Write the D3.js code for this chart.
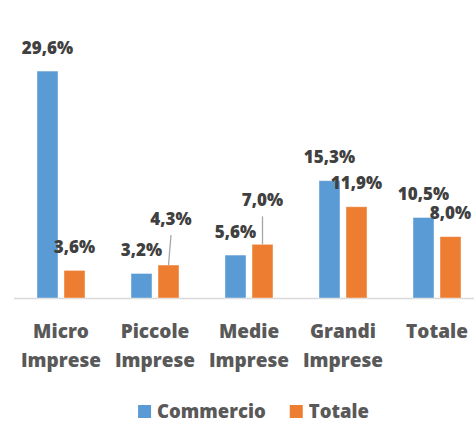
<!DOCTYPE html>
<meta charset="utf-8">
<style>
body { margin: 0; background: #fff; }
svg { display: block; font-family: "Open Sans", sans-serif; font-weight: 800; }
.axis-label { fill: #595959; font-size: 19px; }
.value { fill: #404040; font-size: 17px; }
.legend text { fill: #595959; font-size: 18.5px; }
</style>
<svg width="474" height="423"></svg>
<script src="https://cdn.jsdelivr.net/npm/d3@7/dist/d3.min.js"></script>
<script>

var categories = [["Micro", "Imprese"], ["Piccole", "Imprese"], ["Medie", "Imprese"], ["Grandi", "Imprese"], ["Totale"]];
var series = ["Commercio", "Totale"];
var commercio = [29.6, 3.2, 5.6, 15.3, 10.5];
var totale = [3.6, 4.3, 7.0, 11.9, 8.0];

var colors = {"Commercio": "#5b9bd5", "Totale": "#ed7d31"};

var svg = d3.select("svg"),
    width = +svg.attr("width"),
    height = +svg.attr("height");

var base = 298;

var rows = [];
categories.forEach(function(c, i) {
  rows.push({cat: i, s: "Commercio", v: commercio[i]});
  rows.push({cat: i, s: "Totale", v: totale[i]});
});

var x = d3.scaleBand()
    .domain(d3.range(categories.length))
    .range([14, 484]);

var xSub = d3.scaleBand()
    .domain(series)
    .range([23, 71])
    .paddingInner(0.222);

var y = d3.scaleLinear()
    .domain([0, 30])
    .range([base, 68]);

// axis line
svg.append("line")
    .attr("x1", 14).attr("x2", width)
    .attr("y1", base + 0.5).attr("y2", base + 0.5)
    .attr("stroke", "#d9d9d9")
    .attr("stroke-width", 1.5);

svg.append("g")
  .selectAll("rect")
  .data(rows)
  .enter().append("rect")
    .attr("x", function(d) { return x(d.cat) + xSub(d.s); })
    .attr("y", function(d) { return y(d.v); })
    .attr("width", xSub.bandwidth())
    .attr("height", function(d) { return base - y(d.v); })
    .attr("fill", function(d) { return colors[d.s]; })
    .attr("stroke", "#fff")
    .attr("stroke-opacity", 0.5)
    .attr("stroke-width", 0.8);

// labels that Excel pushed away from their bar
var nudge = {"1|Totale": [2.5, -40], "2|Totale": [0, -38]};

function lx(d) {
  var n = nudge[d.cat + "|" + d.s];
  return x(d.cat) + xSub(d.s) + xSub.bandwidth() / 2 + (n ? n[0] : 0);
}
function ly(d) {
  var n = nudge[d.cat + "|" + d.s];
  return y(d.v) + (n ? n[1] : -17.5);
}

svg.append("g")
  .selectAll("line")
  .data(rows.filter(function(d) { return nudge[d.cat + "|" + d.s]; }))
  .enter().append("line")
    .attr("x1", function(d) { return lx(d); })
    .attr("y1", function(d) { return ly(d) + 10; })
    .attr("x2", function(d) { return x(d.cat) + xSub(d.s) + xSub.bandwidth() / 2; })
    .attr("y2", function(d) { return y(d.v); })
    .attr("stroke", "#a6a6a6")
    .attr("stroke-width", 1.3);

svg.append("g")
  .selectAll("text")
  .data(rows)
  .enter().append("text")
    .attr("class", "value")
    .attr("x", lx)
    .attr("y", ly)
    .attr("text-anchor", "middle")
    .text(function(d) { return d3.format(".1f")(d.v).replace(".", ",") + "%"; });

var cat = svg.append("g")
  .selectAll("text")
  .data(categories)
  .enter().append("text")
    .attr("class", "axis-label")
    .attr("text-anchor", "middle")
    .attr("transform", function(d, i) { return "translate(" + (x(i) + x.bandwidth() / 2) + "," + (base + 40) + ")"; });

cat.selectAll("tspan")
  .data(function(d) { return d; })
  .enter().append("tspan")
    .attr("x", 0)
    .attr("dy", function(d, i) { return i ? 28.5 : 0; })
    .text(function(d) { return d; });

// legend
var legend = svg.append("g").attr("class", "legend");
var lxPos = 0;
series.forEach(function(s) {
  var g = legend.append("g").attr("transform", "translate(" + lxPos + ",0)");
  g.append("rect")
      .attr("x", 0).attr("y", -13)
      .attr("width", 13).attr("height", 13)
      .attr("fill", colors[s]);
  var t = g.append("text")
      .attr("x", 19).attr("y", 0)
      .text(s);
  lxPos += 19 + t.node().getComputedTextLength() + 24;
});
var lw = lxPos - 24;
legend.attr("transform", "translate(" + (253.5 - lw / 2) + ",418)");

</script>
